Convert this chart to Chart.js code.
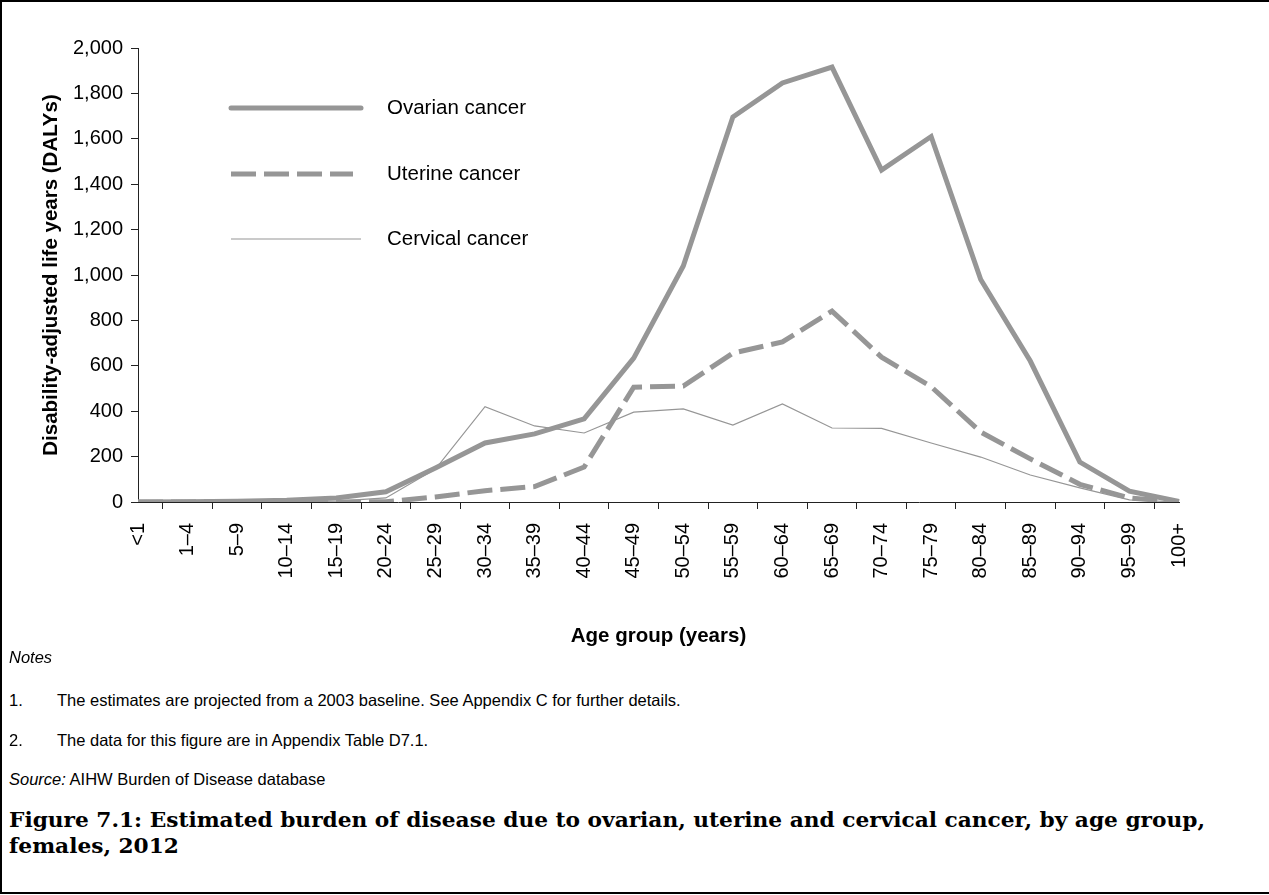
<!DOCTYPE html>
<html>
<head>
<meta charset="utf-8">
<script src="https://cdn.jsdelivr.net/npm/chart.js@4/dist/chart.umd.min.js"></script>
<style>
  html, body { margin: 0; padding: 0; background: #fff; }
  body { width: 1269px; height: 895px; position: relative; overflow: hidden; }
  #frame { position: absolute; left: 0; top: 0; width: 1300px; height: 890px;
           border-left: 2px solid #000; border-top: 2px solid #000; border-bottom: 2px solid #000; }
  #wrap { position: absolute; left: 0; top: 0; width: 1269px; height: 650px; }
  .t { position: absolute; font-family: "Liberation Sans", Arial, sans-serif; font-size: 16.5px;
       color: #000; line-height: 20px; white-space: nowrap; }
  .cap { position: absolute; left: 9px; font-family: "DejaVu Serif", serif; font-weight: bold;
         font-size: 21px; line-height: 26px; color: #000; white-space: nowrap; transform-origin: 0 0; }
</style>
</head>
<body>
<div id="frame"></div>
<div id="wrap"><canvas id="c" width="1269" height="650"></canvas></div>
<div class="t" style="left:9px; top:647px;"><i>Notes</i></div>
<div class="t" style="left:9px; top:690px;">1.</div>
<div class="t" style="left:57px; top:690px;">The estimates are projected from a 2003 baseline. See Appendix C for further details.</div>
<div class="t" style="left:9px; top:730px;">2.</div>
<div class="t" style="left:57px; top:730px;">The data for this figure are in Appendix Table D7.1.</div>
<div class="t" style="left:9px; top:769px;"><i>Source:</i> AIHW Burden of Disease database</div>
<div class="cap" id="cap1" style="top:807px;">Figure 7.1: Estimated burden of disease due to ovarian, uterine and cervical cancer, by age group,</div>
<div class="cap" id="cap2" style="top:833px;">females, 2012</div>
<script>
const ageGroups = ['<1','1–4','5–9','10–14','15–19','20–24','25–29','30–34','35–39','40–44','45–49','50–54','55–59','60–64','65–69','70–74','75–79','80–84','85–89','90–94','95–99','100+'];
const ovarian  = [0, 1, 3, 8, 18, 45, 150, 260, 300, 366, 634, 1040, 1696, 1846, 1916, 1462, 1610, 980, 621, 176, 48, 2];
const uterine  = [0, 0, 0, 0, 0, 1, 22, 50, 68, 154, 506, 511, 656, 705, 841, 638, 508, 308, 190, 78, 18, 0];
const cervical = [0, 0, 0, 1, 4, 18, 145, 420, 335, 304, 396, 410, 339, 432, 326, 324, 260, 198, 119, 62, 9, 0];
const seriesNames = ['Ovarian cancer', 'Uterine cancer', 'Cervical cancer'];
const yTicks = { min: 0, max: 2000, step: 200 };

const GREY = '#969696';
const FONT = '"Liberation Sans", Arial, sans-serif';

// fit caption's first line to the reference width (layout only)
(function () {
  const c1 = document.getElementById('cap1'), c2 = document.getElementById('cap2');
  const w = c1.getBoundingClientRect().width;
  const s = 1196 / w;
  c1.style.transform = 'scaleX(' + s + ')';
  c2.style.transform = 'scaleX(' + s + ')';
})();

// Legend drawn inside the plot area (top-left), using the datasets' styles
const insideLegend = {
  id: 'insideLegend',
  afterDatasetsDraw(chart) {
    const ctx = chart.ctx;
    const a = chart.chartArea;
    const x0 = a.left + 93, x1 = a.left + 223, tx = a.left + 249;
    const rows = [a.top + 60, a.top + 126, a.top + 191];
    chart.data.datasets.forEach((ds, i) => {
      ctx.save();
      ctx.strokeStyle = ds.borderColor;
      ctx.lineWidth = ds.borderWidth;
      ctx.lineCap = i === 0 ? 'round' : 'butt';
      ctx.setLineDash(ds.borderDash || []);
      ctx.beginPath();
      ctx.moveTo(x0, rows[i]);
      ctx.lineTo(i === 1 ? x1 - 8 : x1, rows[i]);
      ctx.stroke();
      ctx.setLineDash([]);
      ctx.fillStyle = '#000';
      ctx.font = '20.5px ' + FONT;
      ctx.textBaseline = 'middle';
      ctx.textAlign = 'left';
      ctx.fillText(ds.label, tx, rows[i]);
      ctx.restore();
    });
  }
};

new Chart(document.getElementById('c'), {
  type: 'line',
  data: {
    labels: ageGroups,
    datasets: [
      { label: seriesNames[0], data: ovarian, borderColor: GREY, borderWidth: 5, pointRadius: 0, tension: 0, fill: false },
      { label: seriesNames[1], data: uterine, borderColor: GREY, borderWidth: 5, borderDash: [25, 8], pointRadius: 0, tension: 0, fill: false },
      { label: seriesNames[2], data: cervical, borderColor: GREY, borderWidth: 1.2, pointRadius: 0, tension: 0, fill: false }
    ]
  },
  options: {
    responsive: false,
    animation: false,
    devicePixelRatio: 1,
    layout: { padding: { top: 48, left: 0, right: 90, bottom: 0 } },
    plugins: { legend: { display: false }, tooltip: { enabled: false } },
    scales: {
      x: {
        type: 'category',
        offset: false,
        grid: { offset: true, drawOnChartArea: false, drawTicks: true, tickLength: 7, color: '#222', tickColor: '#222' },
        border: { display: true, color: '#222', width: 1 },
        ticks: { autoSkip: false, minRotation: 90, maxRotation: 90, padding: 14, color: '#000', font: { family: FONT, size: 20 } },
        title: { display: true, text: 'Age group (years)', color: '#000', font: { family: FONT, size: 20.5, weight: 'bold' }, padding: { top: 0, bottom: 1 } },
        afterFit(s) { s.height = 148; }
      },
      y: {
        min: yTicks.min, max: yTicks.max,
        grid: { drawOnChartArea: false, drawTicks: true, tickLength: 7, color: '#222', tickColor: '#222' },
        border: { display: true, color: '#222', width: 1 },
        ticks: { stepSize: yTicks.step, padding: 8, color: '#000', font: { family: FONT, size: 20 } },
        title: { display: true, text: 'Disability-adjusted life years (DALYs)', color: '#000', font: { family: FONT, size: 20.5, weight: 'bold' }, padding: { top: 39, bottom: 0 } },
        afterFit(s) { s.width = 138; }
      }
    }
  },
  plugins: [insideLegend]
});
</script>
</body>
</html>
